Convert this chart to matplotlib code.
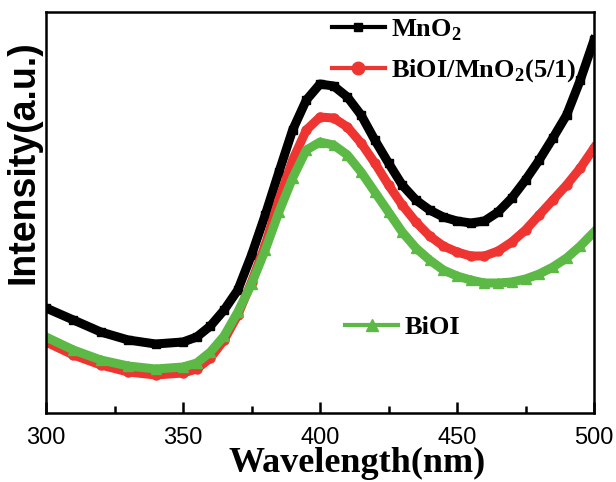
import matplotlib
matplotlib.use("Agg")
import matplotlib.pyplot as plt
from matplotlib.ticker import MultipleLocator

plt.rcParams['mathtext.fontset'] = 'custom'
plt.rcParams['mathtext.rm'] = 'Liberation Serif:bold'
plt.rcParams['mathtext.bf'] = 'Liberation Serif:bold'

# wavelength (nm) and intensity (a.u.)
wavelength = [300, 310, 320, 330, 340, 350, 355, 360, 365, 370, 375, 380, 385, 390,
              395, 400, 405, 410, 415, 420, 425, 430, 435, 440, 445, 450, 455, 460,
              465, 470, 475, 480, 485, 490, 495, 500]
mno2 = [105, 93, 81, 73, 69, 71, 76, 87, 103, 123, 158, 198, 241, 283, 313, 329,
        327, 316, 298, 273, 250, 228, 213, 203, 196, 192, 190, 192, 201, 215, 233,
        253, 275, 298, 333, 373]
bioi_mno2 = [71, 58, 48, 41, 38, 40, 44, 55, 73, 98, 131, 168, 213, 253, 283, 296,
             295, 286, 270, 250, 228, 208, 191, 177, 167, 161, 157, 157, 162, 171,
             183, 198, 213, 228, 245, 265]
bioi = [76, 63, 53, 47, 44, 46, 50, 61, 77, 101, 129, 163, 201, 235, 263, 271,
        268, 258, 241, 221, 201, 181, 165, 153, 143, 137, 133, 130, 130, 131, 134,
        139, 146, 155, 167, 181]

labels = ['MnO$_2$', 'BiOI/MnO$_2$(5/1)', 'BiOI']
colors = ['#000000', '#ee3532', '#5cb946']

fig = plt.figure(figsize=(6.16, 4.82), dpi=100)
ax = fig.add_axes([0.0747, 0.1432, 0.8896, 0.8318])

ax.plot(wavelength, mno2, color=colors[0], lw=6.5, marker='s', ms=6)
ax.plot(wavelength, bioi_mno2, color=colors[1], lw=6.5, marker='o', ms=6.5)
ax.plot(wavelength, bioi, color=colors[2], lw=6.5, marker='^', ms=7)

ax.set_xlim(300, 500)
ax.set_ylim(0, 401)
ax.xaxis.set_major_locator(MultipleLocator(50))
ax.xaxis.set_minor_locator(MultipleLocator(25))
ax.set_yticks([])
ax.tick_params(axis='x', which='major', direction='in', length=8, width=1.8,
               labelsize=17, pad=10)
ax.tick_params(axis='x', which='minor', direction='in', length=5, width=1.8)
for lab in ax.get_xticklabels():
    lab.set_fontfamily('Liberation Sans')
for s in ax.spines.values():
    s.set_linewidth(1.8)

ax.set_xlabel('Wavelength(nm)', fontfamily='Liberation Serif', fontweight='bold',
              fontsize=26)
ax.xaxis.set_label_coords(0.567, -0.085)
ax.set_ylabel('Intensity(a.u.)', fontfamily='Liberation Sans', fontweight='bold',
              fontsize=27)
ax.yaxis.set_label_coords(-0.008, 0.626)

h1 = [plt.Line2D([], [], color=colors[0], lw=3, marker='s', ms=6),
      plt.Line2D([], [], color=colors[1], lw=3, marker='o', ms=9)]
leg1 = ax.legend(h1, labels[:2], loc='center left', bbox_to_anchor=(0.522, 0.903),
                 frameon=False, borderpad=0, borderaxespad=0, handlelength=2.0,
                 handletextpad=0.25, labelspacing=0.55,
                 prop={'family': 'Liberation Serif', 'weight': 'bold', 'size': 19})
ax.add_artist(leg1)
h2 = [plt.Line2D([], [], color=colors[2], lw=3, marker='^', ms=8)]
ax.legend(h2, labels[2:], loc='center left', bbox_to_anchor=(0.546, 0.214),
          frameon=False, borderpad=0, borderaxespad=0, handlelength=2.0,
          handletextpad=0.25,
          prop={'family': 'Liberation Serif', 'weight': 'bold', 'size': 19})

fig.savefig('out.png', dpi=100)
